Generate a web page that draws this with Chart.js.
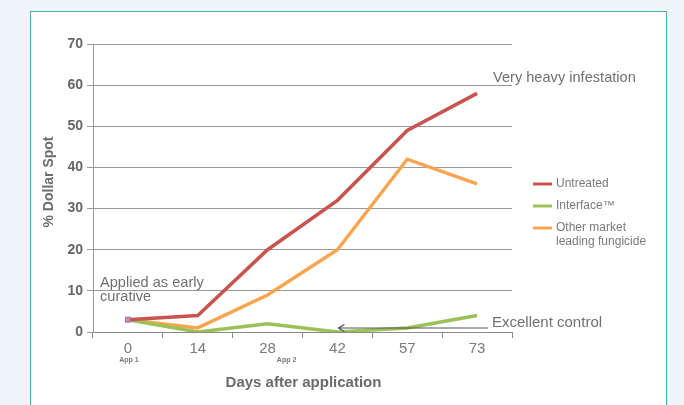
<!DOCTYPE html>
<html>
<head>
<meta charset="utf-8">
<script src="https://cdn.jsdelivr.net/npm/chart.js@4/dist/chart.umd.min.js"></script>
<style>
  html, body { margin: 0; padding: 0; background: #eef6f9; }
  body { width: 684px; height: 405px; position: relative; overflow: hidden; }
  #card { position: absolute; left: 30px; top: 11px; width: 635px; height: 400px;
          background: #fff; border: 1.5px solid #4aaab2; }
  #wrap { position: absolute; left: 0; top: 0; width: 684px; height: 405px; }
</style>
</head>
<body>
<div id="card"></div>
<div id="wrap"><canvas id="chart" width="684" height="405"></canvas></div>
<script>
const days = ["0", "14", "28", "42", "57", "73"];
const untreated = [3, 4, 20, 32, 49, 58];
const interfaceSeries = [3, 0, 2, 0, 1, 4];
const otherFungicide = [3, 1, 9, 20, 42, 36];
const yTicks = [0, 10, 20, 30, 40, 50, 60, 70];

const legendItems = [
  { lines: ["Untreated"], color: "#c9534e" },
  { lines: ["Interface\u2122"], color: "#9cc257" },
  { lines: ["Other market", "leading fungicide"], color: "#f9a54f" },
];

const textGray = "#6b6b6b";

const notes = {
  id: "notes",
  afterDraw(chart) {
    const { ctx, scales } = chart;
    const x = scales.x;
    const y = scales.y;
    ctx.save();
    ctx.fillStyle = textGray;
    ctx.textBaseline = "middle";

    // axis titles
    ctx.font = "bold 15px 'Liberation Sans', Arial, sans-serif";
    ctx.textAlign = "center";
    ctx.fillText("Days after application", (x.left + x.right) / 2 + 1, 383);
    ctx.save();
    ctx.translate(49, (y.top + y.bottom) / 2 - 6);
    ctx.rotate(-Math.PI / 2);
    ctx.font = "bold 14px 'Liberation Sans', Arial, sans-serif";
    ctx.fillText("% Dollar Spot", 0, 0);
    ctx.restore();

    // application markers
    ctx.font = "bold 7px 'Liberation Sans', Arial, sans-serif";
    ctx.fillStyle = "#777";
    ctx.fillText("App 1", x.getPixelForValue(0) + 1, 360);
    ctx.fillText("App 2", x.getPixelForValue(2) + 19, 360);

    // annotations
    ctx.textAlign = "left";
    ctx.font = "14.6px 'Liberation Sans', Arial, sans-serif";
    ctx.fillStyle = "#707070";
    ctx.fillText("Very heavy infestation", 493, 78);
    ctx.fillText("Applied as early", 100, 283);
    ctx.fillText("curative", 100, 297);
    ctx.font = "15px 'Liberation Sans', Arial, sans-serif";
    ctx.fillText("Excellent control", 492, 323);

    // arrow
    const tipX = x.getPixelForValue(3) + 1;
    const ay = 328;
    ctx.strokeStyle = "#555";
    ctx.lineWidth = 1.2;
    ctx.beginPath();
    ctx.moveTo(488, ay);
    ctx.lineTo(tipX, ay);
    ctx.moveTo(tipX + 6, ay - 3.5);
    ctx.lineTo(tipX, ay);
    ctx.lineTo(tipX + 6, ay + 3.5);
    ctx.stroke();

    // legend
    ctx.font = "12px 'Liberation Sans', Arial, sans-serif";
    ctx.fillStyle = "#7a7a7a";
    let ly = 184;
    legendItems.forEach((item) => {
      ctx.strokeStyle = item.color;
      ctx.lineWidth = 3;
      ctx.beginPath();
      ctx.moveTo(533, ly);
      ctx.lineTo(552, ly);
      ctx.stroke();
      item.lines.forEach((t, i) => ctx.fillText(t, 556, ly + i * 14));
      ly += 22;
    });
    ctx.restore();
  },
};

const lineStyle = (color) => ({
  borderColor: color,
  backgroundColor: color,
  borderWidth: 3.5,
  tension: 0,
  pointRadius: 0,
  fill: false,
});

new Chart(document.getElementById("chart"), {
  type: "line",
  data: {
    labels: days,
    datasets: [
      { label: "Untreated", data: untreated, ...lineStyle("#c9534e"),
        pointRadius: [3.5, 0, 0, 0, 0, 0], pointStyle: "rect",
        pointBackgroundColor: "#d98a9a", pointBorderColor: "#8b70b0", pointBorderWidth: 1 },
      { label: "Interface\u2122", data: interfaceSeries, ...lineStyle("#9cc257") },
      { label: "Other market leading fungicide", data: otherFungicide, ...lineStyle("#f9a54f") },
    ],
  },
  options: {
    responsive: false,
    animation: false,
    layout: { padding: { left: 0, right: 172, top: 44, bottom: 0 } },
    plugins: { legend: { display: false }, tooltip: { enabled: false } },
    scales: {
      x: {
        offset: true,
        grid: { display: true, drawOnChartArea: false, drawTicks: true, tickLength: 6, color: "#8a8a8a", offset: true },
        border: { display: true, color: "#8a8a8a", width: 1 },
        ticks: { color: "#7a7a7a", font: { family: "'Liberation Sans', Arial, sans-serif", size: 15 }, padding: 2 },
        afterFit: (s) => { s.height = 73; },
      },
      y: {
        min: 0,
        max: 70,
        afterBuildTicks: (s) => { s.ticks = yTicks.map((v) => ({ value: v })); },
        grid: { color: "#9a9a9a", lineWidth: 1, drawTicks: true, tickLength: 6 },
        border: { display: true, color: "#9a9a9a", width: 1 },
        ticks: { color: "#666", font: { family: "'Liberation Sans', Arial, sans-serif", size: 14, weight: "bold" }, padding: 4 },
        afterFit: (s) => { s.width = 93; },
      },
    },
  },
  plugins: [notes],
});
</script>
</body>
</html>
